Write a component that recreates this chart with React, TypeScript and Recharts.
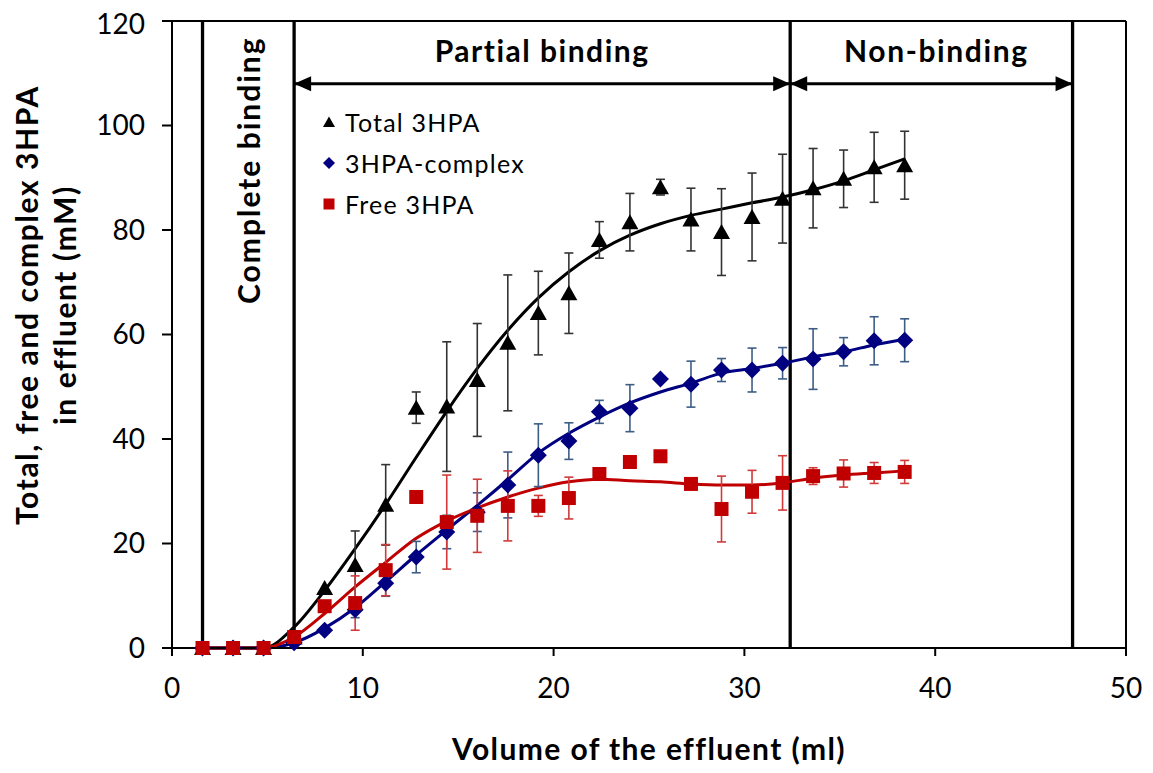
import React from "react";
import {
  ComposedChart,
  Line,
  Scatter,
  XAxis,
  YAxis,
  ErrorBar,
  ReferenceLine,
  ReferenceDot,
  Label,
} from "recharts";

const FONT = "Lato, 'Noto Sans', sans-serif";

// effluent volume (ml)
const volume = [
  1.6, 3.2, 4.8, 6.4, 8.0, 9.6, 11.2, 12.8, 14.4, 16.0, 17.6, 19.2, 20.8, 22.4,
  24.0, 25.6, 27.2, 28.8, 30.4, 32.0, 33.6, 35.2, 36.8, 38.4,
];

// measured means and error bars (mM)
const totalMean = [
  0, 0, 0, 2, 11.5, 15.9, 27.4, 46, 46.2, 51.3, 58.4, 64.1, 67.9, 78.1, 81.5,
  88.2, 82, 79.6, 82.5, 86, 88, 89.8, 92, 92.4,
];
const totalErr = [
  0, 0, 0, 0, 0, 6.5, 7.7, 3, 12.4, 10.8, 13, 8, 7.7, 3.5, 5.5, 1.5, 6, 8.3,
  8.4, 8.5, 7.6, 5.5, 6.7, 6.5,
];
const complexMean = [
  0, 0, 0, 1, 3.4, 7.3, 12.4, 17.4, 22.2, 26, 31.2, 36.9, 39.6, 45.2, 45.9,
  51.5, 50.5, 53.2, 53.2, 54.5, 55.3, 56.7, 58.8, 58.9,
];
const complexErr = [
  0, 0, 0, 0, 0.5, 1.5, 2.5, 3, 3.2, 3.7, 6.3, 6, 3.5, 2.2, 4.5, 0, 4.4, 2.2,
  4.2, 3, 5.8, 2.7, 4.6, 4.1,
];
const freeMean = [
  0, 0, 0, 2.1, 8, 8.6, 14.9, 28.9, 24.1, 25.3, 27.2, 27.2, 28.7, 33.3, 35.6,
  36.7, 31.4, 26.6, 29.9, 31.6, 32.9, 33.4, 33.5, 33.7,
];
const freeErr = [
  0, 0, 0, 0, 0.5, 5.2, 4.9, 0, 9, 7, 6.7, 2, 4, 0, 0, 0, 1, 6.3, 4.1, 5.2,
  1.6, 2.6, 2, 2.2,
];

// fitted curves at the same volumes
const totalFit = [
  0, 0, 0, 4, 11, 19, 27.5, 36.5, 45.3, 53.5, 60.8, 67, 72, 76, 79, 81.2, 82.8,
  84, 85.2, 86.3, 87.7, 89.4, 91.5, 93.6,
];
const complexFit = [
  0, 0, 0, 1, 3.8, 7.7, 12.7, 17.8, 22.6, 27.3, 32.2, 37.3, 41.1, 44.2, 46.9,
  49, 50.7, 52.6, 53.5, 54.5, 55.7, 56.7, 58, 59.1,
];
const freeFit = [
  0, 0, 0, 2.1, 6.6, 11.7, 16.4, 21, 24.3, 26.8, 28.9, 30.6, 31.8, 32.3, 32,
  31.8, 31.4, 31.2, 31.2, 31.6, 32.5, 33.1, 33.5, 33.9,
];

const xTicks = [0, 10, 20, 30, 40, 50];
const yTicks = [0, 20, 40, 60, 80, 100, 120];

// phase boundaries (ml)
const phaseBounds = [1.6, 6.4, 32.4, 47.2];
const arrowLevel = 108;

const rows = volume.map((x, i) => ({
  x,
  total: totalMean[i],
  totalErr: totalErr[i],
  complex: complexMean[i],
  complexErr: complexErr[i],
  free: freeMean[i],
  freeErr: freeErr[i],
  totalFit: totalFit[i],
  complexFit: complexFit[i],
  freeFit: freeFit[i],
}));

const triangle = (props: any) => {
  const { cx, cy, fill } = props;
  return (
    <polygon
      points={`${cx},${cy - 8} ${cx - 8.5},${cy + 7} ${cx + 8.5},${cy + 7}`}
      fill={fill}
    />
  );
};

const diamond = (props: any) => {
  const { cx, cy, fill } = props;
  return (
    <polygon
      points={`${cx},${cy - 8.5} ${cx + 8.5},${cy} ${cx},${cy + 8.5} ${cx - 8.5},${cy}`}
      fill={fill}
    />
  );
};

const square = (props: any) => {
  const { cx, cy, fill } = props;
  return <rect x={cx - 7} y={cy - 7} width={14} height={14} fill={fill} />;
};

const arrowHead = (dir: number) => (props: any) => {
  const { cx, cy } = props;
  return (
    <polygon
      points={`${cx},${cy} ${cx - dir * 17},${cy - 7.5} ${cx - dir * 17},${cy + 7.5}`}
      fill="#000"
    />
  );
};

const boldText = (text: string, rotate: boolean, spacing: number) => (props: any) => {
  const { cx, cy } = props;
  return (
    <text
      x={cx}
      y={cy}
      textAnchor="middle"
      fontFamily={FONT}
      fontWeight="bold"
      fontSize={30}
      letterSpacing={spacing}
      fill="#000"
      transform={rotate ? `rotate(-90 ${cx} ${cy})` : undefined}
    >
      {text}
    </text>
  );
};

const yLabel = () => {
  const cy = 297;
  return (
    <g fontFamily={FONT} fontWeight="bold" fontSize={30} letterSpacing={1.6} fill="#000">
      <text x={30} y={cy} textAnchor="middle" transform={`rotate(-90 30 ${cy})`}>
        Total, free and complex 3HPA
      </text>
      <text x={68} y={cy} textAnchor="middle" transform={`rotate(-90 68 ${cy})`}>
        in effluent (mM)
      </text>
    </g>
  );
};

const legendItems = [
  { name: "Total 3HPA", color: "#000000", kind: "triangle" },
  { name: "3HPA-complex", color: "#000080", kind: "diamond" },
  { name: "Free 3HPA", color: "#C00000", kind: "square" },
];

function LegendMark({ kind, color }: { kind: string; color: string }) {
  return (
    <svg width={14} height={14} style={{ marginRight: 9 }}>
      {kind === "triangle" && <polygon points="7,1.5 1,12 13,12" fill={color} />}
      {kind === "diamond" && <polygon points="7,1 13,7 7,13 1,7" fill={color} />}
      {kind === "square" && <rect x={1.5} y={1.5} width={11} height={11} fill={color} />}
    </svg>
  );
}

export default function App() {
  return (
    <div style={{ position: "relative", width: 1145, height: 765 }}>
      <ComposedChart
        width={1145}
        height={765}
        data={rows}
        margin={{ top: 13, right: 27, left: 0, bottom: 65 }}
        style={{ fontFamily: FONT }}
      >
        <XAxis
          dataKey="x"
          type="number"
          domain={[0, 50]}
          ticks={xTicks}
          height={60}
          tickSize={8}
          tickMargin={22}
          axisLine={{ stroke: "#000", strokeWidth: 2 }}
          tickLine={{ stroke: "#000", strokeWidth: 2 }}
          tick={{ fill: "#000", fontSize: 28, fontFamily: FONT }}
        >
          <Label
            value="Volume of the effluent (ml)"
            position="bottom"
            offset={31}
            fill="#000"
            fontSize={30}
            fontWeight="bold"
            fontFamily={FONT}
            letterSpacing={1.4}
          />
        </XAxis>
        <YAxis
          type="number"
          domain={[0, 120]}
          ticks={yTicks}
          width={164}
          tickSize={10}
          tickMargin={17}
          axisLine={{ stroke: "#000", strokeWidth: 2 }}
          tickLine={{ stroke: "#000", strokeWidth: 2 }}
          tick={{ fill: "#000", fontSize: 28, fontFamily: FONT }}
          label={{ content: yLabel }}
        />

        <ReferenceLine y={120} stroke="#000" strokeWidth={2} />
        <ReferenceLine x={50} stroke="#000" strokeWidth={2} />
        {phaseBounds.map((b) => (
          <ReferenceLine key={b} x={b} stroke="#000" strokeWidth={3.3} />
        ))}

        <ReferenceLine
          segment={[
            { x: phaseBounds[1], y: arrowLevel },
            { x: phaseBounds[2], y: arrowLevel },
          ]}
          stroke="#000"
          strokeWidth={3}
        />
        <ReferenceLine
          segment={[
            { x: phaseBounds[2], y: arrowLevel },
            { x: phaseBounds[3], y: arrowLevel },
          ]}
          stroke="#000"
          strokeWidth={3}
        />
        <ReferenceDot x={phaseBounds[1]} y={arrowLevel} shape={arrowHead(-1)} />
        <ReferenceDot x={phaseBounds[2]} y={arrowLevel} shape={arrowHead(1)} />
        <ReferenceDot x={phaseBounds[2]} y={arrowLevel} shape={arrowHead(-1)} />
        <ReferenceDot x={phaseBounds[3]} y={arrowLevel} shape={arrowHead(1)} />

        <ReferenceDot x={19.4} y={112.1} shape={boldText("Partial binding", false, 1.5)} />
        <ReferenceDot x={40.06} y={112.1} shape={boldText("Non-binding", false, 1.6)} />
        <ReferenceDot x={4.61} y={91.45} shape={boldText("Complete binding", true, 2)} />

        <Line
          dataKey="totalFit"
          type="monotone"
          stroke="#000000"
          strokeWidth={3}
          dot={false}
          isAnimationActive={false}
        />
        <Line
          dataKey="complexFit"
          type="monotone"
          stroke="#000080"
          strokeWidth={3}
          dot={false}
          isAnimationActive={false}
        />
        <Line
          dataKey="freeFit"
          type="monotone"
          stroke="#C00000"
          strokeWidth={3}
          dot={false}
          isAnimationActive={false}
        />

        <Scatter data={rows} dataKey="total" fill="#000000" shape={triangle} isAnimationActive={false}>
          <ErrorBar dataKey="totalErr" direction="y" width={4.5} stroke="#333333" strokeWidth={1.6} />
        </Scatter>
        <Scatter data={rows} dataKey="complex" fill="#000080" shape={diamond} isAnimationActive={false}>
          <ErrorBar dataKey="complexErr" direction="y" width={4.5} stroke="#3d5d86" strokeWidth={1.6} />
        </Scatter>
        <Scatter data={rows} dataKey="free" fill="#C00000" shape={square} isAnimationActive={false}>
          <ErrorBar dataKey="freeErr" direction="y" width={4.5} stroke="#d23a3a" strokeWidth={1.6} />
        </Scatter>
      </ComposedChart>

      <div
        style={{
          position: "absolute",
          left: 314,
          top: 93,
          fontFamily: FONT,
          fontSize: 25,
          letterSpacing: 1.2,
          color: "#000",
        }}
      >
        {legendItems.map((it) => (
          <div key={it.name} style={{ display: "flex", alignItems: "center", height: 41 }}>
            <LegendMark kind={it.kind} color={it.color} />
            <span>{it.name}</span>
          </div>
        ))}
      </div>
    </div>
  );
}
